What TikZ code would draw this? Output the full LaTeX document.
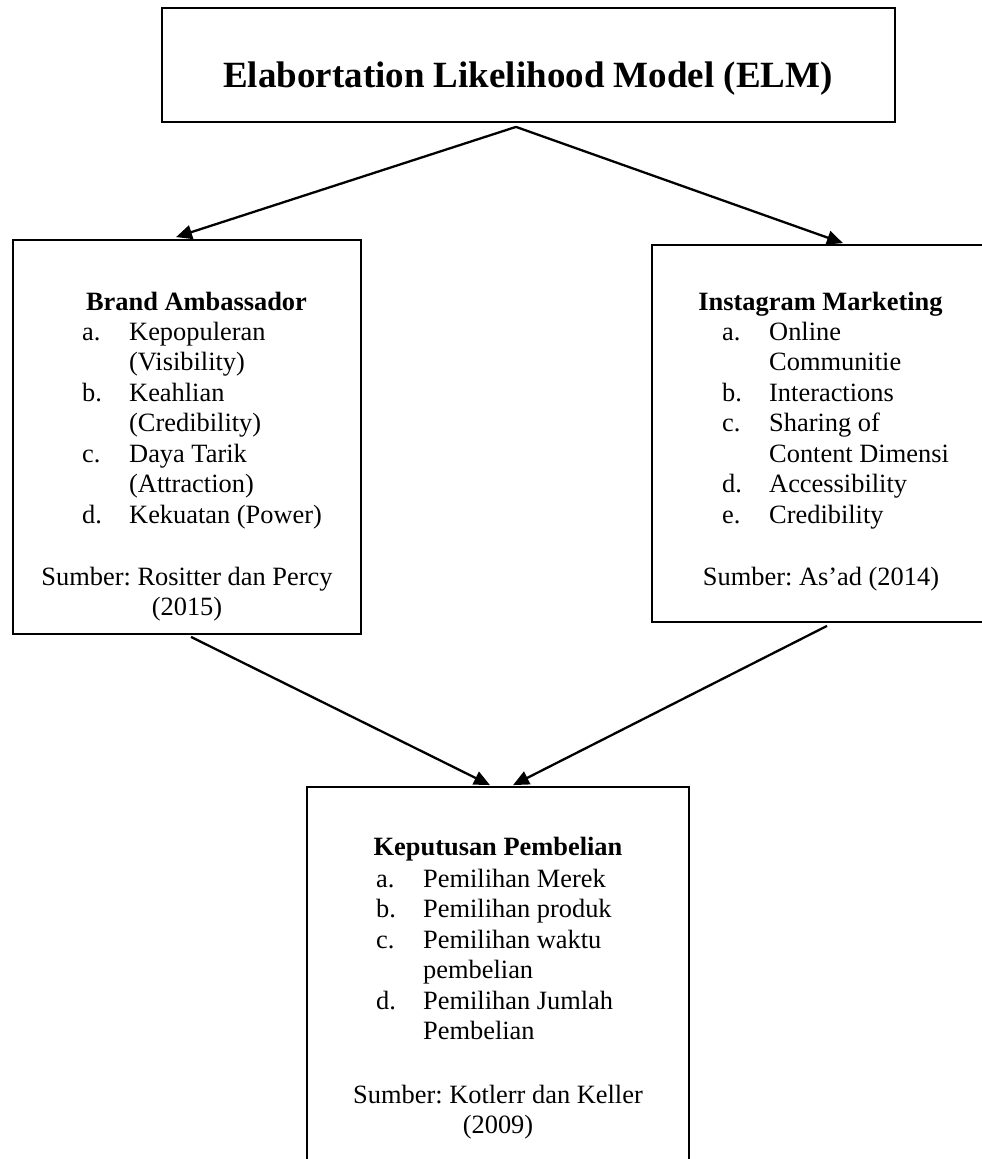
\documentclass[tikz,border=0pt]{standalone}
\usepackage{fontspec}
\setmainfont{Liberation Serif}
\frenchspacing
\usepackage{tikz}
\usetikzlibrary{arrows.meta}
\tikzset{
box/.style={
draw,
line width=1.8pt,
inner sep=0pt
},
txt/.style={
inner sep=0pt,
font=\fontsize{26.4}{30.5}\selectfont
},
head/.style={
txt,
anchor=base,
font=\fontsize{26.4}{30.5}\selectfont\bfseries
},
arrow/.style={
-{Triangle[length=16pt,width=14pt]},
line width=2.3pt
}
}
\newcommand{\itemlist}[1]{\begin{tabular}[t]{@{}p{47pt}@{}l@{}}#1\end{tabular}}
\newcommand{\srclines}[1]{\begin{tabular}[t]{@{}c@{}}#1\end{tabular}}

\begin{document}
\begin{tikzpicture}[x=1pt,y=-1pt]
\useasboundingbox (0,0) rectangle (982,1159);

\node[box,minimum width=733pt,minimum height=114pt](elm) at (528.5,65){};
\node[box,minimum width=348pt,minimum height=394pt](amb) at (187,437){};
\node[box,minimum width=338pt,minimum height=377pt](ig) at (821,433.5){};
\node[box,minimum width=382pt,minimum height=388pt](kp) at (498,981){};

\node[head,font=\fontsize{37}{42}\selectfont\bfseries](elmtext) at (528,87){Elabortation Likelihood Model (ELM)};

\node[head](ambhead) at (196.5,310){Brand Ambassador};
\node[txt,anchor=base west](amblist) at (82,340){\itemlist{a.&Kepopuleran\\&(Visibility)\\b.&Keahlian\\&(Credibility)\\c.&Daya Tarik\\&(Attraction)\\d.&Kekuatan (Power)}};
\node[txt,anchor=base](ambsrc) at (187,585){\srclines{Sumber: Rositter dan Percy\\(2015)}};

\node[head](ighead) at (820.5,310){Instagram Marketing};
\node[txt,anchor=base west](iglist) at (722,340){\itemlist{a.&Online\\&Communitie\\b.&Interactions\\c.&Sharing of\\&Content Dimensi\\d.&Accessibility\\e.&Credibility}};
\node[txt,anchor=base](igsrc) at (821,585){Sumber: As’ad (2014)};

\node[head](kphead) at (498,855){Keputusan Pembelian};
\node[txt,anchor=base west](kplist) at (376,887){\itemlist{a.&Pemilihan Merek\\b.&Pemilihan produk\\c.&Pemilihan waktu\\&pembelian\\d.&Pemilihan Jumlah\\&Pembelian}};
\node[txt,anchor=base](kpsrc) at (498,1103){\srclines{Sumber: Kotlerr dan Keller\\(2009)}};

\draw[arrow]([xshift=-12.5pt,yshift=-4pt]elm.south)--([xshift=-11pt,yshift=2pt]amb.north);
\draw[arrow]([xshift=-12.5pt,yshift=-4pt]elm.south)--([xshift=22pt,yshift=1pt]ig.north);
\draw[arrow]([xshift=4pt,yshift=-2pt]amb.south)--([xshift=-8pt,yshift=1pt]kp.north);
\draw[arrow]([xshift=6pt,yshift=-3pt]ig.south)--([xshift=15pt,yshift=1pt]kp.north);
\end{tikzpicture}
\end{document}
